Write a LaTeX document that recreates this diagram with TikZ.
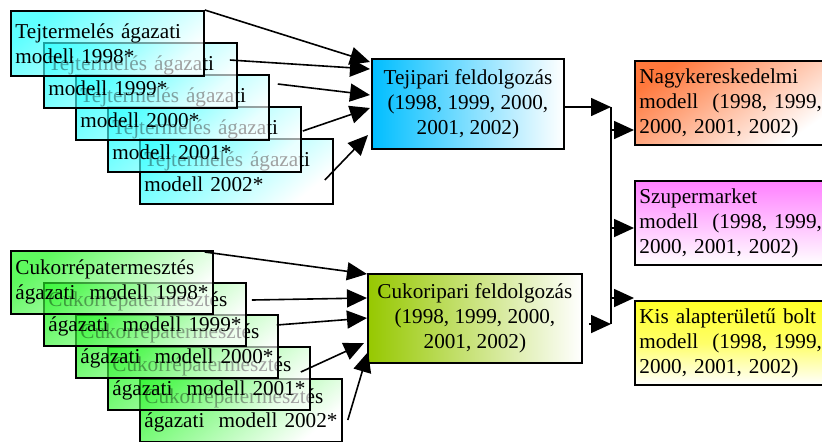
\documentclass[tikz,border=0pt]{standalone}
\usepackage{fontspec}
\setmainfont{Liberation Serif}
\usetikzlibrary{arrows.meta,calc}
\definecolor{tejc}{RGB}{0,255,255}
\definecolor{cukc}{RGB}{0,245,0}
\definecolor{tejpc}{RGB}{0,190,255}
\definecolor{cukpc}{RGB}{150,200,0}
\definecolor{nagyc}{RGB}{255,120,60}
\definecolor{szupc}{RGB}{255,128,255}
\definecolor{kisc}{RGB}{255,255,40}
\begin{document}
\begin{tikzpicture}[x=0.5pt,y=-0.5pt,
  every node/.style={font=\fontsize{10.6}{12.5}\selectfont,
     execute at begin node={\hyphenpenalty=10000\exhyphenpenalty=10000}},
  box/.style={draw=black,line width=0.9pt,anchor=north west,inner ysep=0pt},
  tejbox/.style={box,top color=tejc,bottom color=white,shading angle=40,
     fill opacity=0.63,text opacity=1,draw opacity=1,
     minimum width=96.5pt,minimum height=32.5pt,text width=92pt,inner xsep=2.25pt,align=left},
  cukbox/.style={box,top color=cukc,bottom color=white,shading angle=40,
     fill opacity=0.63,text opacity=1,draw opacity=1,
     minimum width=101pt,minimum height=31.5pt,text width=96.5pt,inner xsep=2.25pt,align=left},
  procbox/.style={box,align=center,inner xsep=2pt},
  outbox/.style={box,minimum width=96pt,minimum height=42pt,text width=91.5pt,inner xsep=2.25pt,align=left},
  arr/.style={line width=0.8pt,-{Triangle[length=10pt,width=9pt]}},
  bus/.style={line width=0.8pt}
]
\useasboundingbox (0,0) rectangle (822,441);

% Tej boxes (bottom first)
\node[tejbox] (t5) at (139,138) {\mbox{Tejtermelés ágazati}\\\mbox{modell 2002*}};
\node[tejbox] (t4) at (107,106) {\mbox{Tejtermelés ágazati}\\\mbox{modell 2001*}};
\node[tejbox] (t3) at (75,74) {\mbox{Tejtermelés ágazati}\\\mbox{modell 2000*}};
\node[tejbox] (t2) at (43,42) {\mbox{Tejtermelés ágazati}\\\mbox{modell 1999*}};
\node[tejbox] (t1) at (10,10) {\mbox{Tejtermelés ágazati}\\\mbox{modell 1998*}};

% Cukor boxes
\node[cukbox] (c5) at (139,378) {\mbox{Cukorrépatermesztés}\\\mbox{ágazati\ \ modell 2002*}};
\node[cukbox] (c4) at (107,346) {\mbox{Cukorrépatermesztés}\\\mbox{ágazati\ \ modell 2001*}};
\node[cukbox] (c3) at (75,314) {\mbox{Cukorrépatermesztés}\\\mbox{ágazati\ \ modell 2000*}};
\node[cukbox] (c2) at (43,282) {\mbox{Cukorrépatermesztés}\\\mbox{ágazati\ \ modell 1999*}};
\node[cukbox] (c1) at (10,250) {\mbox{Cukorrépatermesztés}\\\mbox{ágazati\ \ modell 1998*}};

% processing boxes
\node[procbox,left color=tejpc,right color=white,minimum width=96pt,minimum height=45pt] (tp) at (371,58)
  {Tejipari feldolgozás\\(1998, 1999, 2000,\\2001, 2002)};
\node[procbox,left color=cukpc,right color=white,minimum width=107pt,minimum height=44.5pt] (cp) at (367,273)
  {Cukoripari feldolgozás\\(1998, 1999, 2000,\\2001, 2002)};

% output boxes
\node[outbox,top color=nagyc,bottom color=white,shading angle=35] (nk) at (634,60)
  {\mbox{Nagykereskedelmi}\\\mbox{modell\ \ (1998, 1999,}\\\mbox{2000, 2001, 2002)}};
\node[outbox,top color=szupc,bottom color=white] (sz) at (634,180)
  {\mbox{Szupermarket}\\\mbox{modell\ \ (1998, 1999,}\\\mbox{2000, 2001, 2002)}};
\node[outbox,top color=kisc,bottom color=white,middle color=kisc!70!white] (kb) at (634,300)
  {\mbox{Kis alapterületű bolt}\\\mbox{modell\ \ (1998, 1999,}\\\mbox{2000, 2001, 2002)}};

% Tej arrows
\coordinate (ts1) at (t1.north east);
\coordinate (ts2) at ($(t2.north east)+(-8,18)$);
\coordinate (ts3) at ($(t3.north east)+(8,10)$);
\coordinate (ts4) at ($(t4.north east)+(1,25)$);
\coordinate (ts5) at ($(t5.north east)+(-9,42)$);
\draw[arr] (ts1) -- ($(tp.north west)+(-1,4)$);
\draw[arr] (ts2) -- ($(tp.north west)+(-1,11)$);
\draw[arr] (ts3) -- ($(tp.north west)+(-1,37)$);
\draw[arr] (ts4) -- ($(tp.north west)+(-1,50)$);
\draw[arr] (ts5) -- ($(tp.north west)+(-3,77)$);

% Cukor arrows
\coordinate (cs1) at ($(c1.north east)+(-9,2)$);
\coordinate (cs2) at ($(c2.north east)+(5,18)$);
\coordinate (cs3) at ($(c3.north east)+(-2,11)$);
\coordinate (cs4) at ($(c4.north east)+(-10,26)$);
\coordinate (cs5) at ($(c5.north east)+(5,42)$);
\draw[arr] (cs1) -- ($(cp.north west)+(0,1)$);
\draw[arr] (cs2) -- ($(cp.north west)+(0,25)$);
\draw[arr] (cs3) -- ($(cp.north west)+(0,45)$);
\draw[arr] (cs4) -- ($(cp.north west)+(-3,70)$);
\draw[arr] (cs5) -- ($(cp.north west)+(1,79)$);

% bus
\coordinate (bus1) at (611,107);
\coordinate (bus2) at (611,324);
\draw[arr] (tp.east |- bus1) -- (bus1);
\draw[arr] ($(cp.east |- bus2)+(6,0)$) -- (bus2);
\draw[bus] (bus1) -- (bus2);
\coordinate (b1) at (611,130);
\coordinate (b2) at (611,228);
\coordinate (b3) at (611,298);
\draw[arr] (b1) -- (b1 -| nk.west);
\draw[arr] (b2) -- (b2 -| sz.west);
\draw[arr] (b3) -- (b3 -| kb.west);
\end{tikzpicture}
\end{document}
